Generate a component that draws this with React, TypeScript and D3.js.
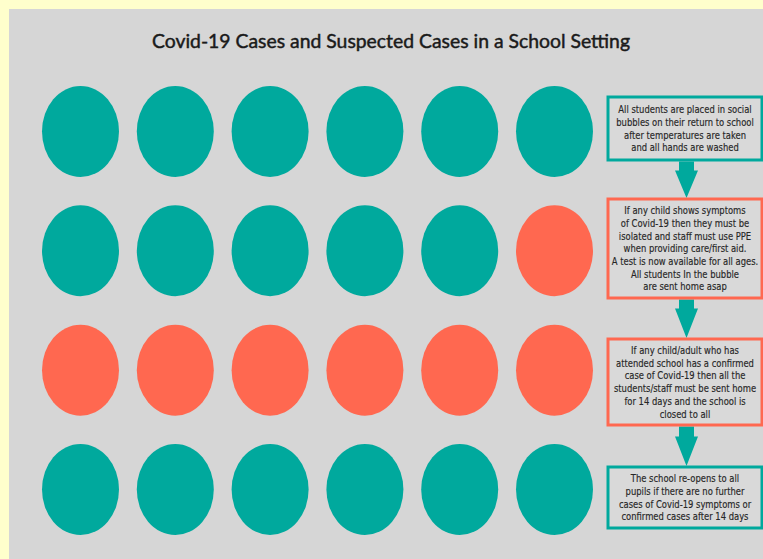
import React from "react";
import * as d3 from "d3";

const columns = [1, 2, 3, 4, 5, 6];
const rows = ["bubble", "symptom", "confirmed", "reopen"];
// status per row, per column: "ok" = no case, "case" = case / suspected
const rowStatus: string[][] = [
  ["ok", "ok", "ok", "ok", "ok", "ok"],
  ["ok", "ok", "ok", "ok", "ok", "case"],
  ["case", "case", "case", "case", "case", "case"],
  ["ok", "ok", "ok", "ok", "ok", "ok"],
];
const boxStatus = ["ok", "case", "case", "ok"];
const boxTexts: string[][] = [
  [
    "All students are placed in social",
    "bubbles on their return to school",
    "after temperatures are taken",
    "and all hands are washed",
  ],
  [
    "If any child shows symptoms",
    "of Covid-19 then they must be",
    "isolated and staff must use PPE",
    "when providing care/first aid.",
    "A test is now available for all ages.",
    "All students In the bubble",
    "are sent home asap",
  ],
  [
    "If any child/adult who has",
    "attended school has a confirmed",
    "case of Covid-19 then all the",
    "students/staff must be sent home",
    "for 14 days and the school is",
    "closed to all",
  ],
  [
    "The school re-opens to all",
    "pupils if there are no further",
    "cases of Covid-19 symptoms or",
    "confirmed cases after 14 days",
  ],
];
const title = "Covid-19 Cases and Suspected Cases in a School Setting";

const W = 763;
const H = 559;
const colors: Record<string, string> = { ok: "#00a99d", case: "#ff6850" };

const boxTops = [97, 199, 339, 467];
const boxBottoms = [160, 298, 425, 528];

export default function App() {
  const x = d3.scalePoint<number>().domain(columns).range([80.5, 554.5]);
  const y = d3.scalePoint<string>().domain(rows).range([131.5, 489.5]);
  const boxL = 608;
  const boxR = 762;
  const bcx = (boxL + boxR) / 2;
  const ax = 686.5;
  const lineH = 12.7;

  const arrows = [0, 1, 2].map((i) => {
    const y0 = boxBottoms[i] + 1.5;
    const y1 = boxTops[i + 1] - 1;
    const headTop = y0 + (i === 2 ? 10 : 9);
    const p = d3.path();
    p.moveTo(ax - 7.5, y0);
    p.lineTo(ax + 7.5, y0);
    p.lineTo(ax + 7.5, headTop);
    p.lineTo(ax + 11.5, headTop);
    p.lineTo(ax, y1);
    p.lineTo(ax - 11.5, headTop);
    p.lineTo(ax - 7.5, headTop);
    p.closePath();
    return p.toString();
  });

  return (
    <svg
      width={W}
      height={H}
      style={{ position: "absolute", left: 0, top: 0 }}
    >
      <rect x={0} y={0} width={W} height={H} fill="#ffffcc" />
      <rect x={9} y={9} width={W - 9} height={H - 9} fill="#d6d6d6" />
      <text
        x={391}
        y={48}
        textAnchor="middle"
        fontFamily="Lato, 'Open Sans', sans-serif"
        fontSize={19}
        fill="#1a1a1a"
        stroke="#1a1a1a"
        strokeWidth={0.45}
        textLength={478}
        lengthAdjust="spacingAndGlyphs"
      >
        {title}
      </text>
      {rows.map((r, ri) =>
        columns.map((c, ci) => (
          <ellipse
            key={r + c}
            cx={x(c)}
            cy={y(r)}
            rx={38.5}
            ry={45.5}
            fill={colors[rowStatus[ri][ci]]}
          />
        ))
      )}
      {arrows.map((d, i) => (
        <path key={i} d={d} fill="#00a99d" />
      ))}
      {boxTexts.map((lines, i) => {
        const top = boxTops[i];
        const bottom = boxBottoms[i];
        const mid = (top + bottom) / 2;
        const start = mid - ((lines.length - 1) * lineH) / 2;
        return (
          <g key={i}>
            <rect
              x={boxL}
              y={top}
              width={boxR - boxL}
              height={bottom - top}
              fill="#d9d9d9"
              stroke={colors[boxStatus[i]]}
              strokeWidth={3}
            />
            <g transform={`translate(${bcx},0) scale(0.85,1)`}>
              {lines.map((ln, li) => (
                <text
                  key={li}
                  x={0}
                  y={start + li * lineH}
                  dy="0.35em"
                  textAnchor="middle"
                  fontFamily="'Liberation Sans Narrow', 'DejaVu Sans Condensed', sans-serif"
                  fontSize={11}
                  fill="#262626"
                  stroke="#262626"
                  strokeWidth={0.15}
                >
                  {ln}
                </text>
              ))}
            </g>
          </g>
        );
      })}
    </svg>
  );
}
